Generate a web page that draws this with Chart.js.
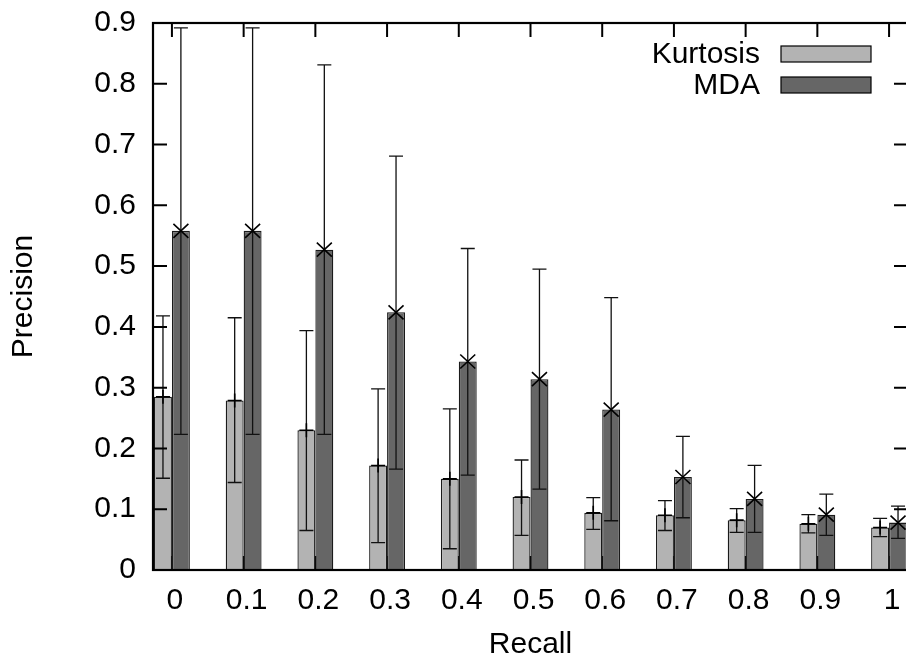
<!DOCTYPE html>
<html>
<head>
<meta charset="utf-8">
<script src="https://cdn.jsdelivr.net/npm/chart.js@4/dist/chart.umd.min.js"></script>
<style>
  html, body { margin: 0; padding: 0; background: #fff; overflow: hidden; }
  #wrap { width: 912px; height: 660px; }
</style>
</head>
<body>
<div id="wrap"><canvas id="prChart" width="912" height="660"></canvas></div>
<script>
// recall levels (x ticks) and precision per method
const recall = [0, 0.1, 0.2, 0.3, 0.4, 0.5, 0.6, 0.7, 0.8, 0.9, 1];
const yTicks = [0, 0.1, 0.2, 0.3, 0.4, 0.5, 0.6, 0.7, 0.8, 0.9];

const kurtosis     = [0.285, 0.279, 0.230, 0.172, 0.150, 0.120, 0.094, 0.090, 0.082, 0.076, 0.070];
const kurtosisLow  = [0.151, 0.144, 0.065, 0.045, 0.035, 0.057, 0.067, 0.065, 0.062, 0.061, 0.055];
const kurtosisHigh = [0.418, 0.415, 0.394, 0.298, 0.265, 0.181, 0.119, 0.114, 0.101, 0.091, 0.085];

const mda     = [0.558, 0.558, 0.527, 0.424, 0.343, 0.314, 0.264, 0.153, 0.117, 0.091, 0.078];
const mdaLow  = [0.223, 0.223, 0.223, 0.166, 0.156, 0.133, 0.081, 0.086, 0.062, 0.057, 0.052];
const mdaHigh = [0.892, 0.892, 0.831, 0.681, 0.529, 0.495, 0.448, 0.220, 0.172, 0.125, 0.105];

const FONT = '"Liberation Sans", Arial, sans-serif';

function fmt(v) {
  return String(Number(v.toFixed(1)));
}

// error bars, point markers, inward ticks, border and legend
const gnuplotLook = {
  id: "gnuplotLook",
  beforeDatasetsDraw(chart) {
    const { ctx, chartArea: a, scales: { x } } = chart;
    ctx.save();
    ctx.strokeStyle = "#000";
    ctx.lineWidth = 2;
    ctx.beginPath();
    x.ticks.forEach((t) => {
      const px = x.getPixelForValue(t.value);
      ctx.moveTo(px, a.bottom); ctx.lineTo(px, a.bottom - 14);
    });
    ctx.stroke();
    ctx.restore();
  },
  afterDatasetsDraw(chart) {
    const { ctx, chartArea: a, scales: { x, y } } = chart;
    ctx.save();

    chart.data.datasets.forEach((ds, di) => {
      const meta = chart.getDatasetMeta(di);
      meta.data.forEach((bar, i) => {
        const cx = bar.x;
        const yl = y.getPixelForValue(ds.errLow[i]);
        const yh = y.getPixelForValue(ds.errHigh[i]);
        const yv = y.getPixelForValue(ds.data[i].y);
        ctx.strokeStyle = "#111";
        ctx.lineWidth = 1.3;
        ctx.beginPath();
        ctx.moveTo(cx, yl); ctx.lineTo(cx, yh);
        ctx.moveTo(cx - 7, yl); ctx.lineTo(cx + 7, yl);
        ctx.moveTo(cx - 7, yh); ctx.lineTo(cx + 7, yh);
        ctx.stroke();

        ctx.strokeStyle = "#000";
        ctx.lineWidth = 1.6;
        ctx.beginPath();
        if (ds.marker === "plus") {
          ctx.moveTo(cx - 7, yv); ctx.lineTo(cx + 7, yv);
          ctx.moveTo(cx, yv - 7); ctx.lineTo(cx, yv + 7);
        } else {
          ctx.moveTo(cx - 7.5, yv - 7); ctx.lineTo(cx + 7.5, yv + 7);
          ctx.moveTo(cx - 7.5, yv + 7); ctx.lineTo(cx + 7.5, yv - 7);
        }
        ctx.stroke();
      });
    });

    // inward ticks on left, right and top
    ctx.strokeStyle = "#000";
    ctx.lineWidth = 2;
    ctx.beginPath();
    y.ticks.forEach((t) => {
      const py = y.getPixelForValue(t.value);
      ctx.moveTo(a.left, py); ctx.lineTo(a.left + 14, py);
      ctx.moveTo(a.right, py); ctx.lineTo(a.right - 14, py);
    });
    x.ticks.forEach((t) => {
      const px = x.getPixelForValue(t.value);
      ctx.moveTo(px, a.top); ctx.lineTo(px, a.top + 14);
    });
    ctx.stroke();

    // frame
    ctx.lineWidth = 2.2;
    ctx.strokeRect(a.left, a.top, a.right - a.left, a.bottom - a.top);

    // legend, gnuplot style: label then swatch
    ctx.font = "30px " + FONT;
    ctx.textAlign = "right";
    ctx.textBaseline = "middle";
    chart.data.datasets.forEach((ds, di) => {
      const cy = 54 + di * 31;
      ctx.fillStyle = "#000";
      ctx.fillText(ds.label, 760, cy + 1);
      ctx.fillStyle = ds.backgroundColor;
      ctx.fillRect(781, cy - 8, 90, 16);
      ctx.strokeStyle = "#000";
      ctx.lineWidth = 1.2;
      ctx.strokeRect(781, cy - 8, 90, 16);
    });

    ctx.restore();
  },
};

const ctx = document.getElementById("prChart").getContext("2d");
new Chart(ctx, {
  type: "bar",
  data: {
    datasets: [
      {
        label: "Kurtosis",
        data: recall.map((r, i) => ({ x: r, y: kurtosis[i] })),
        errLow: kurtosisLow,
        errHigh: kurtosisHigh,
        marker: "plus",
        backgroundColor: "#b3b3b3",
        borderColor: "#1a1a1a",
        borderWidth: 1.3,
        categoryPercentage: 0.5,
        barPercentage: 1.0,
      },
      {
        label: "MDA",
        data: recall.map((r, i) => ({ x: r, y: mda[i] })),
        errLow: mdaLow,
        errHigh: mdaHigh,
        marker: "cross",
        backgroundColor: "#666666",
        borderColor: "#1a1a1a",
        borderWidth: 1.3,
        categoryPercentage: 0.5,
        barPercentage: 1.0,
      },
    ],
  },
  options: {
    responsive: false,
    animation: false,
    devicePixelRatio: 1,
    layout: { padding: { top: 23, right: 4, bottom: 0, left: 0 } },
    plugins: {
      legend: { display: false },
      tooltip: { enabled: false },
    },
    scales: {
      x: {
        type: "linear",
        offset: false,
        min: -0.0264,
        max: 1.0264,
        afterBuildTicks: (scale) => {
          scale.ticks = recall.map((v) => ({ value: v }));
        },
        afterFit: (scale) => {
          scale.height = 90;
          scale.paddingLeft = 0;
          scale.paddingRight = 0;
        },
        grid: { display: false, drawTicks: false, offset: false },
        border: { display: false },
        ticks: {
          color: "#000",
          font: { family: FONT, size: 30 },
          padding: 13,
          labelOffset: 3,
          maxRotation: 0,
          autoSkip: false,
          callback: (v) => fmt(v),
        },
        title: {
          display: true,
          text: "Recall",
          color: "#000",
          font: { family: FONT, size: 30, lineHeight: 1 },
          padding: { top: 0, bottom: 0 },
        },
      },
      y: {
        min: 0,
        max: 0.9,
        afterBuildTicks: (scale) => {
          scale.ticks = yTicks.map((v) => ({ value: v }));
        },
        afterFit: (scale) => {
          scale.width = 153;
          scale.paddingTop = 0;
          scale.paddingBottom = 0;
        },
        grid: { display: false, drawTicks: false },
        border: { display: false },
        ticks: {
          color: "#000",
          font: { family: FONT, size: 30 },
          padding: 17,
          callback: (v) => fmt(v),
        },
        title: {
          display: true,
          text: "Precision",
          color: "#000",
          font: { family: FONT, size: 30 },
          padding: { top: 6, bottom: 0 },
        },
      },
    },
  },
  plugins: [gnuplotLook],
});
</script>
</body>
</html>
